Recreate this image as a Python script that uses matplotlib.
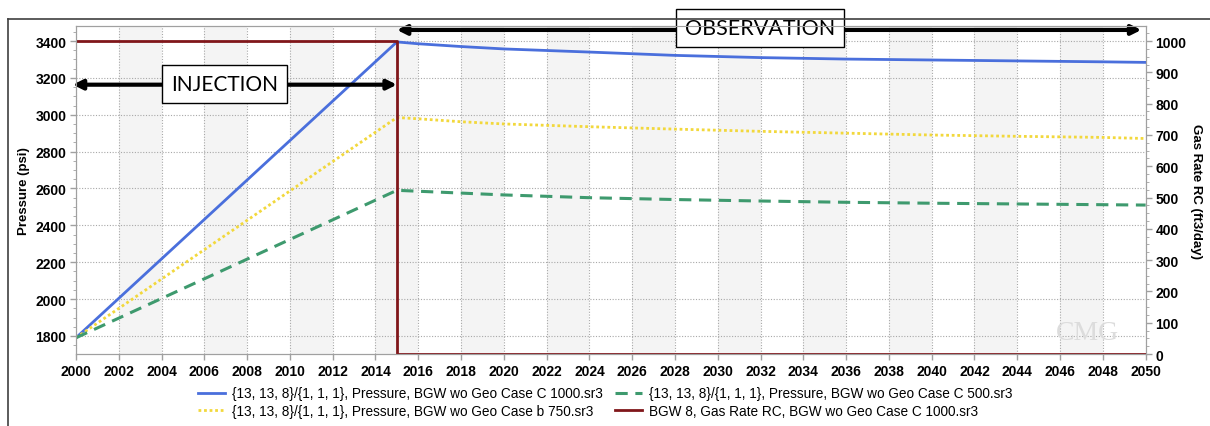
import matplotlib.pyplot as plt
from matplotlib.lines import Line2D
from matplotlib.ticker import MultipleLocator

plt.rcParams['font.family'] = ['Liberation Sans', 'DejaVu Sans']

# data
years = [2000, 2015, 2016, 2018, 2020, 2024, 2028, 2032, 2036, 2040, 2044, 2048, 2050]
p_case_c_1000 = [1790, 3395, 3385, 3370, 3357, 3340, 3322, 3310, 3302, 3297, 3292, 3287, 3284]
p_case_b_750 = [1790, 2985, 2978, 2962, 2950, 2935, 2922, 2910, 2900, 2890, 2883, 2877, 2871]
p_case_c_500 = [1790, 2590, 2585, 2575, 2565, 2550, 2540, 2532, 2525, 2520, 2516, 2512, 2510]

rate_years = [2000, 2015, 2015, 2050]
gas_rate = [1000, 1000, 0, 0]

labels = [
    '{13, 13, 8}/{1, 1, 1}, Pressure, BGW wo Geo Case C 1000.sr3',
    '{13, 13, 8}/{1, 1, 1}, Pressure, BGW wo Geo Case b 750.sr3',
    '{13, 13, 8}/{1, 1, 1}, Pressure, BGW wo Geo Case C 500.sr3',
    'BGW 8, Gas Rate RC, BGW wo Geo Case C 1000.sr3',
]

fig = plt.figure(figsize=(12.1, 4.27), dpi=100)
ax = fig.add_axes([0.0628, 0.1686, 0.884, 0.768])
ax2 = ax.twinx()

# alternating bands
for x0 in range(2002, 2050, 4):
    ax.axvspan(x0, x0 + 2, color='#f4f4f4', lw=0, zorder=0)

l1, = ax.plot(years, p_case_c_1000, color='#4a6fdc', lw=2, zorder=3)
l2, = ax.plot(years, p_case_b_750, color='#f2d83c', lw=2, ls=(0, (1, 1)), zorder=3)
l3, = ax.plot(years, p_case_c_500, color='#3e9a6e', lw=2.2, ls=(0, (4, 2.5)), zorder=3)
l4, = ax2.plot(rate_years, gas_rate, color='#80161a', lw=2)

ax.set_xlim(2000, 2050)
ax.set_ylim(1702, 3481)
ax2.set_ylim(0, 1048)

ax.xaxis.set_major_locator(MultipleLocator(2))
ax.yaxis.set_major_locator(MultipleLocator(200))
ax.yaxis.set_minor_locator(MultipleLocator(50))
ax2.yaxis.set_major_locator(MultipleLocator(100))
ax2.yaxis.set_minor_locator(MultipleLocator(25))

ax.grid(True, color='#a8a8a8', lw=0.8, ls=(0, (1, 1.5)))
ax.set_axisbelow(True)

for a in (ax, ax2):
    for s in a.spines.values():
        s.set_color('#a0a0a0')
    a.tick_params(colors='#a0a0a0', labelcolor='black', labelsize=10, length=4, width=1, pad=3)
    a.tick_params(which='minor', colors='#a0a0a0', length=2)
    for t in a.get_xticklabels() + a.get_yticklabels():
        t.set_fontweight('bold')

ax.set_ylabel('Pressure (psi)', fontsize=9.5, fontweight='bold', labelpad=4)
ax2.set_ylabel('Gas Rate RC (ft3/day)', fontsize=9.5, fontweight='bold', rotation=270, labelpad=11)

# annotations
ax.annotate('', xy=(1999.85, 3163), xytext=(2015, 3163),
            arrowprops=dict(arrowstyle='<|-|>', color='black', lw=3, mutation_scale=14,
                            shrinkA=0, shrinkB=0), annotation_clip=False, zorder=6)
ax.text(2006.95, 3167, 'INJECTION', fontsize=15, family='Lato', ha='center', va='center', zorder=7,
        bbox=dict(boxstyle='square,pad=0.42', fc='white', ec='black', lw=1))
ax.annotate('', xy=(2015, 3460), xytext=(2049.8, 3460),
            arrowprops=dict(arrowstyle='<|-|>', color='black', lw=3, mutation_scale=14,
                            shrinkA=0, shrinkB=0), annotation_clip=False, zorder=6)
ax.text(2031.97, 3472, 'OBSERVATION', fontsize=15.5, family='Lato', ha='center', va='center',
        zorder=7, clip_on=False,
        bbox=dict(boxstyle='square,pad=0.42', fc='white', ec='black', lw=1))

ax.text(2047.3, 1820, 'CMG', fontsize=20, color='#dcdcdc', family='Liberation Serif',
        ha='center', va='center', zorder=2)

fig.legend([l1, l2, l3, l4], labels, loc='upper center', bbox_to_anchor=(0.5, 0.115),
           ncol=2, frameon=False, fontsize=9.8, handlelength=2.0, handletextpad=0.5,
           columnspacing=0.9, labelspacing=0.25, borderpad=0.2)

# outer frame
fig.add_artist(Line2D([0.0066, 0.0066], [0, 0.953], color='#404040', lw=1.2))
fig.add_artist(Line2D([0.0066, 1], [0.953, 0.953], color='#404040', lw=1.2))

fig.savefig('out.png', dpi=100)
